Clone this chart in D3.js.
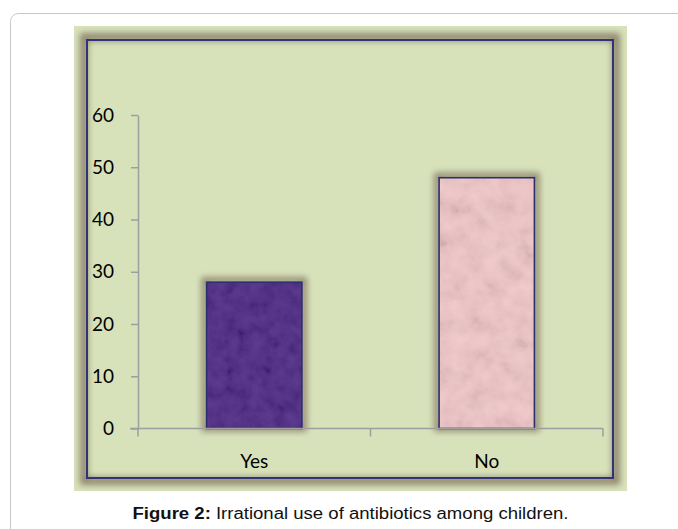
<!DOCTYPE html>
<html><head><meta charset="utf-8">
<script src="https://cdn.jsdelivr.net/npm/d3@7"></script>
<style>html,body{margin:0;padding:0;background:#fff;}svg{display:block;}</style>
</head><body>
<script>
const categories = ["Yes", "No"];
const values = [28, 48];
const yTicks = [0, 10, 20, 30, 40, 50, 60];
const barColors = ["#47217f", "#efc4c5"];
const caption = ["Figure 2:", " Irrational use of antibiotics among children."];

const W = 678, H = 529;
const svg = d3.select("body").append("svg").attr("width", W).attr("height", H);
const defs = svg.append("defs");

defs.append("filter").attr("id","glow").attr("x","-20%").attr("y","-20%").attr("width","140%").attr("height","140%")
  .append("feGaussianBlur").attr("stdDeviation", 3);

// subtle noise overlay textures
function noise(id, seed, freq, alpha){
  const f = defs.append("filter").attr("id", id).attr("x",0).attr("y",0).attr("width","100%").attr("height","100%");
  f.append("feTurbulence").attr("type","fractalNoise").attr("baseFrequency",freq).attr("numOctaves",4).attr("seed",seed).attr("result","n");
  f.append("feColorMatrix").attr("in","n").attr("type","matrix")
   .attr("values",`1.4 0 0 0 -0.2  1.4 0 0 0 -0.2  1.4 0 0 0 -0.2  0 0 0 0 ${alpha}`);
}
noise("tex0", 3, 0.08, 0.12);
noise("tex1", 7, 0.06, 0.12);

// white card
svg.append("rect").attr("x",10.5).attr("y",13.5).attr("width",W+20).attr("height",H+20)
  .attr("rx",8).attr("fill","#fff").attr("stroke","#c8c8c8");

// green panel
svg.append("rect").attr("x",74).attr("y",26).attr("width",553).attr("height",465).attr("fill","#d7e2bb");

// frame shadow + frame
const fx = 87, fy = 40, fw = 526, fh = 438;
svg.append("rect").attr("x",fx-3).attr("y",fy-3).attr("width",fw+6).attr("height",fh+6)
  .attr("fill","none").attr("stroke","#857862").attr("stroke-width",8).attr("filter","url(#glow)").attr("opacity",0.85);
svg.append("rect").attr("x",fx).attr("y",fy).attr("width",fw).attr("height",fh)
  .attr("fill","none").attr("stroke","#2e3476").attr("stroke-width",2);

// scales
const y = d3.scaleLinear().domain([0, 60]).range([428.5, 115]);
const x = d3.scaleBand().domain(categories).range([138, 603]).paddingInner(0.59).paddingOuter(0.295);

// bars
const bars = svg.append("g");
categories.forEach((c, i) => {
  const bx = x(c), bw = x.bandwidth(), by = y(values[i]), bh = y(0) - y(values[i]);
  bars.append("rect").attr("x",bx-2).attr("y",by-2).attr("width",bw+4).attr("height",bh+2)
    .attr("fill","none").attr("stroke","#857862").attr("stroke-width",6).attr("filter","url(#glow)").attr("opacity",0.85);
  bars.append("rect").attr("x",bx).attr("y",by).attr("width",bw).attr("height",bh).attr("fill",barColors[i]);
  bars.append("rect").attr("x",bx).attr("y",by).attr("width",bw).attr("height",bh)
    .attr("fill","#888").attr("filter",`url(#tex${i})`);
  bars.append("rect").attr("x",bx).attr("y",by).attr("width",bw).attr("height",bh)
    .attr("fill","none").attr("stroke","#2a2f70").attr("stroke-width",1.6);
});

// y axis
const font = "Lato, 'Open Sans', sans-serif";
const yAxis = svg.append("g").attr("transform","translate(138,0)")
  .call(d3.axisLeft(y).tickValues(yTicks).tickSize(7).tickPadding(17).tickSizeOuter(0));
yAxis.select(".domain").attr("stroke","#9e9e9e").attr("stroke-width",1.5);
yAxis.selectAll(".tick line").attr("stroke","#9e9e9e").attr("stroke-width",1.5);
yAxis.selectAll("text").attr("font-family",font).attr("font-size",19).attr("fill","#000");

// x axis
const xAxisG = svg.append("g").attr("transform",`translate(0,${y(0)})`);
xAxisG.append("line").attr("x1",130).attr("x2",603).attr("stroke","#9e9e9e").attr("stroke-width",1.5);
const bounds = [138, 138 + (603-138)/2, 603];
bounds.forEach(b => xAxisG.append("line").attr("x1",b).attr("x2",b).attr("y1",0).attr("y2",8).attr("stroke","#9e9e9e").attr("stroke-width",1.5));
categories.forEach(c => {
  xAxisG.append("text").attr("x", x(c) + x.bandwidth()/2).attr("y", 39.5).attr("text-anchor","middle")
    .attr("font-family",font).attr("font-size",19).attr("fill","#000").text(c);
});

// caption
const cap = svg.append("text").attr("transform","translate(350.5,519) scale(1.16,1)").attr("text-anchor","middle")
  .attr("font-family","'Liberation Sans', Arial, sans-serif").attr("font-size",16).attr("fill","#111");
cap.append("tspan").attr("font-weight","bold").text(caption[0]);
cap.append("tspan").text(caption[1]);
</script>
</body></html>
